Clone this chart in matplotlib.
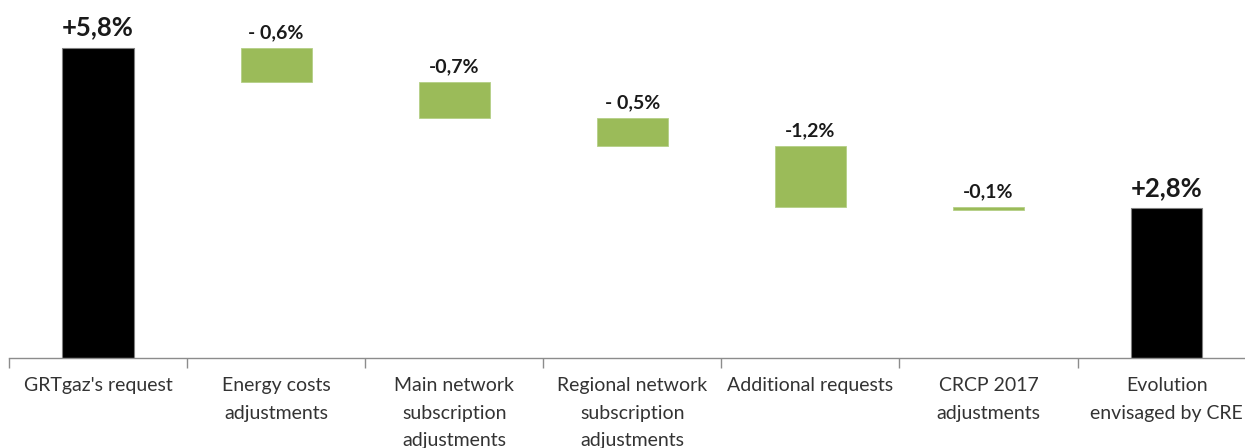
import numpy as np
import matplotlib
matplotlib.use("Agg")
import matplotlib.pyplot as plt

# categories and values (in %)
categories = ["GRTgaz's request", "Energy costs\nadjustments", "Main network\nsubscription\nadjustments",
              "Regional network\nsubscription\nadjustments", "Additional requests",
              "CRCP 2017\nadjustments", "Evolution\nenvisaged by CRE"]
start_value = 5.8
steps = [-0.64, -0.67, -0.52, -1.14, -0.06]
end_value = 2.8
labels = ["+5,8%", "- 0,6%", "-0,7%", "- 0,5%", "-1,2%", "-0,1%", "+2,8%"]

plt.rcParams['font.family'] = ['Lato', 'DejaVu Sans']

fig = plt.figure(figsize=(12.45, 4.48), dpi=100)
ax = fig.add_axes([9 / 1245, 90 / 448, 1236 / 1245, 358 / 448])

x = np.arange(len(categories))
w = 0.4
green = "#9BBB59"

# totals
ax.bar([0, 6], [start_value, end_value], width=w, color="black", edgecolor="#7f7f7f", linewidth=0.8)

# floating steps
level = start_value
for i, s in enumerate(steps):
    ax.bar(i + 1, s, bottom=level, width=w, color=green, edgecolor="#b5cf86", linewidth=0.6)
    level += s

# value labels
tops = [start_value]
level = start_value
for s in steps:
    tops.append(level)
    level += s
tops.append(end_value)
for i, (t, lab) in enumerate(zip(tops, labels)):
    big = i in (0, 6)
    ax.text(i, t + (0.16 if big else 0.13), lab, ha="center", va="bottom",
            fontsize=18.5 if big else 14, fontweight="bold", color="#1a1a1a")

ax.set_xlim(-0.5, 6.44)
ax.set_ylim(0, 6.70)
for side in ("top", "right", "left"):
    ax.spines[side].set_visible(False)
ax.spines["bottom"].set_color("#8c8c8c")
ax.spines["bottom"].set_linewidth(1.0)
ax.set_yticks([])

ax.set_xticks(x)
ax.set_xticklabels(categories, fontsize=14, color="#333333", va="top", linespacing=1.75)
ax.tick_params(axis="x", which="major", length=0, pad=14)
ax.set_xticks(np.arange(-0.5, 6.5, 1), minor=True)
ax.tick_params(axis="x", which="minor", length=7, color="#8c8c8c", width=1.0)

fig.savefig("out.png", dpi=100)
